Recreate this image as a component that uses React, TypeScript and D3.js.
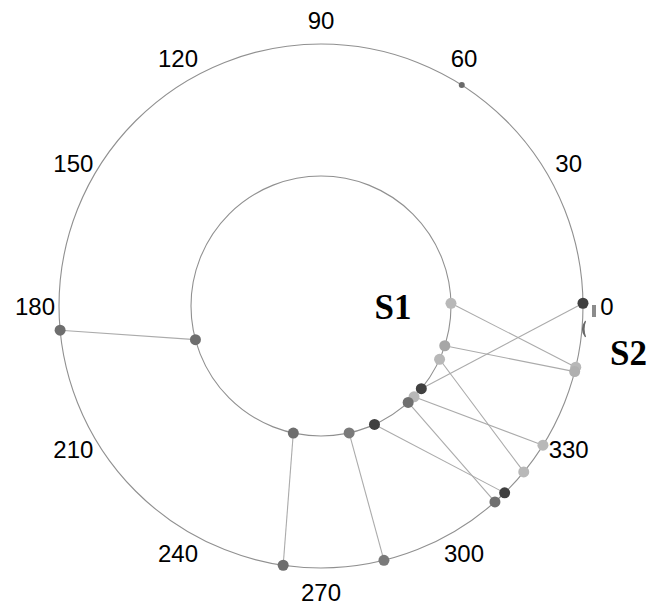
import React from "react";
import * as d3 from "d3";

// Angle tick labels (degrees)
const angleTicks = [0, 30, 60, 90, 120, 150, 180, 210, 240, 270, 300, 330];

// Connections: angle on inner ring (S1) -> angle on outer ring (S2), with shade
const innerAngles = [1.2, 342.2, 335.8, 320.5, 315.7, 312.1, 294.3, 282.5, 257.7, 195.0];
const outerAngles = [346.5, 345.5, 320.7, 0.6, 327.9, 311.6, 314.5, 283.9, 261.7, 185.3];
const innerShades = ["#b8b8b8", "#a6a6a6", "#b8b8b8", "#404040", "#b8b8b8", "#707070", "#404040", "#7a7a7a", "#6e6e6e", "#6e6e6e"];
const outerShades = ["#b8b8b8", "#b0b0b0", "#b8b8b8", "#404040", "#b8b8b8", "#707070", "#404040", "#7a7a7a", "#6e6e6e", "#6e6e6e"];

// Unconnected point on outer ring
const loneOuterAngles = [57.5];

const ringLabels = ["S1", "S2"];

const W = 649;
const H = 609;
const cx = 321;
const cy = 306;

export default function App() {
  const rScale = d3.scaleOrdinal<string, number>().domain(["inner", "outer", "label"]).range([130, 262, 286]);
  const toRad = (deg: number) => (deg * Math.PI) / 180;
  const pos = (deg: number, ring: string) => {
    const r = rScale(ring);
    return [cx + r * Math.cos(toRad(deg)), cy - r * Math.sin(toRad(deg))];
  };

  return (
    <svg width={W} height={H} style={{ position: "absolute", left: 0, top: 0, background: "#fff" }}>
      <circle cx={cx} cy={cy} r={rScale("outer")} fill="none" stroke="#909090" strokeWidth={1.1} />
      <circle cx={cx} cy={cy} r={rScale("inner")} fill="none" stroke="#909090" strokeWidth={1.1} />
      {innerAngles.map((a, i) => {
        const [x1, y1] = pos(a, "inner");
        const [x2, y2] = pos(outerAngles[i], "outer");
        return <line key={"l" + i} x1={x1} y1={y1} x2={x2} y2={y2} stroke="#ababab" strokeWidth={1.1} />;
      })}
      {outerAngles.map((a, i) => {
        const [x, y] = pos(a, "outer");
        return <circle key={"o" + i} cx={x} cy={y} r={5.5} fill={outerShades[i]} />;
      })}
      {innerAngles.map((a, i) => {
        const [x, y] = pos(a, "inner");
        return <circle key={"i" + i} cx={x} cy={y} r={5.5} fill={innerShades[i]} />;
      })}
      {loneOuterAngles.map((a, i) => {
        const [x, y] = pos(a, "outer");
        return <circle key={"lo" + i} cx={x} cy={y} r={3} fill="#6a6a6a" />;
      })}
      {angleTicks.map((t) => {
        const [x, y] = pos(t, "label");
        return (
          <text
            key={"t" + t}
            x={x}
            y={y}
            dy="0.36em"
            textAnchor="middle"
            fontFamily="'Liberation Sans', Arial, sans-serif"
            fontSize={24}
            fill="#000"
          >
            {t}
          </text>
        );
      })}
      {/* small marks near 0 */}
      <rect x={592} y={305} width={4} height={12} fill="#8c8c8c" />
      <path d="M585.5,321 Q579.5,329 585.5,337 Q582.5,329 585.5,321 Z" fill="#6a6a6a" stroke="#6a6a6a" strokeWidth={1.2} />
      <text x={393} y={319} textAnchor="middle" fontFamily="'Liberation Serif', 'Times New Roman', serif" fontWeight="bold" fontSize={35} fill="#000">
        {ringLabels[0]}
      </text>
      <text x={610} y={365} fontFamily="'Liberation Serif', 'Times New Roman', serif" fontWeight="bold" fontSize={35} fill="#000">
        {ringLabels[1]}
      </text>
    </svg>
  );
}
